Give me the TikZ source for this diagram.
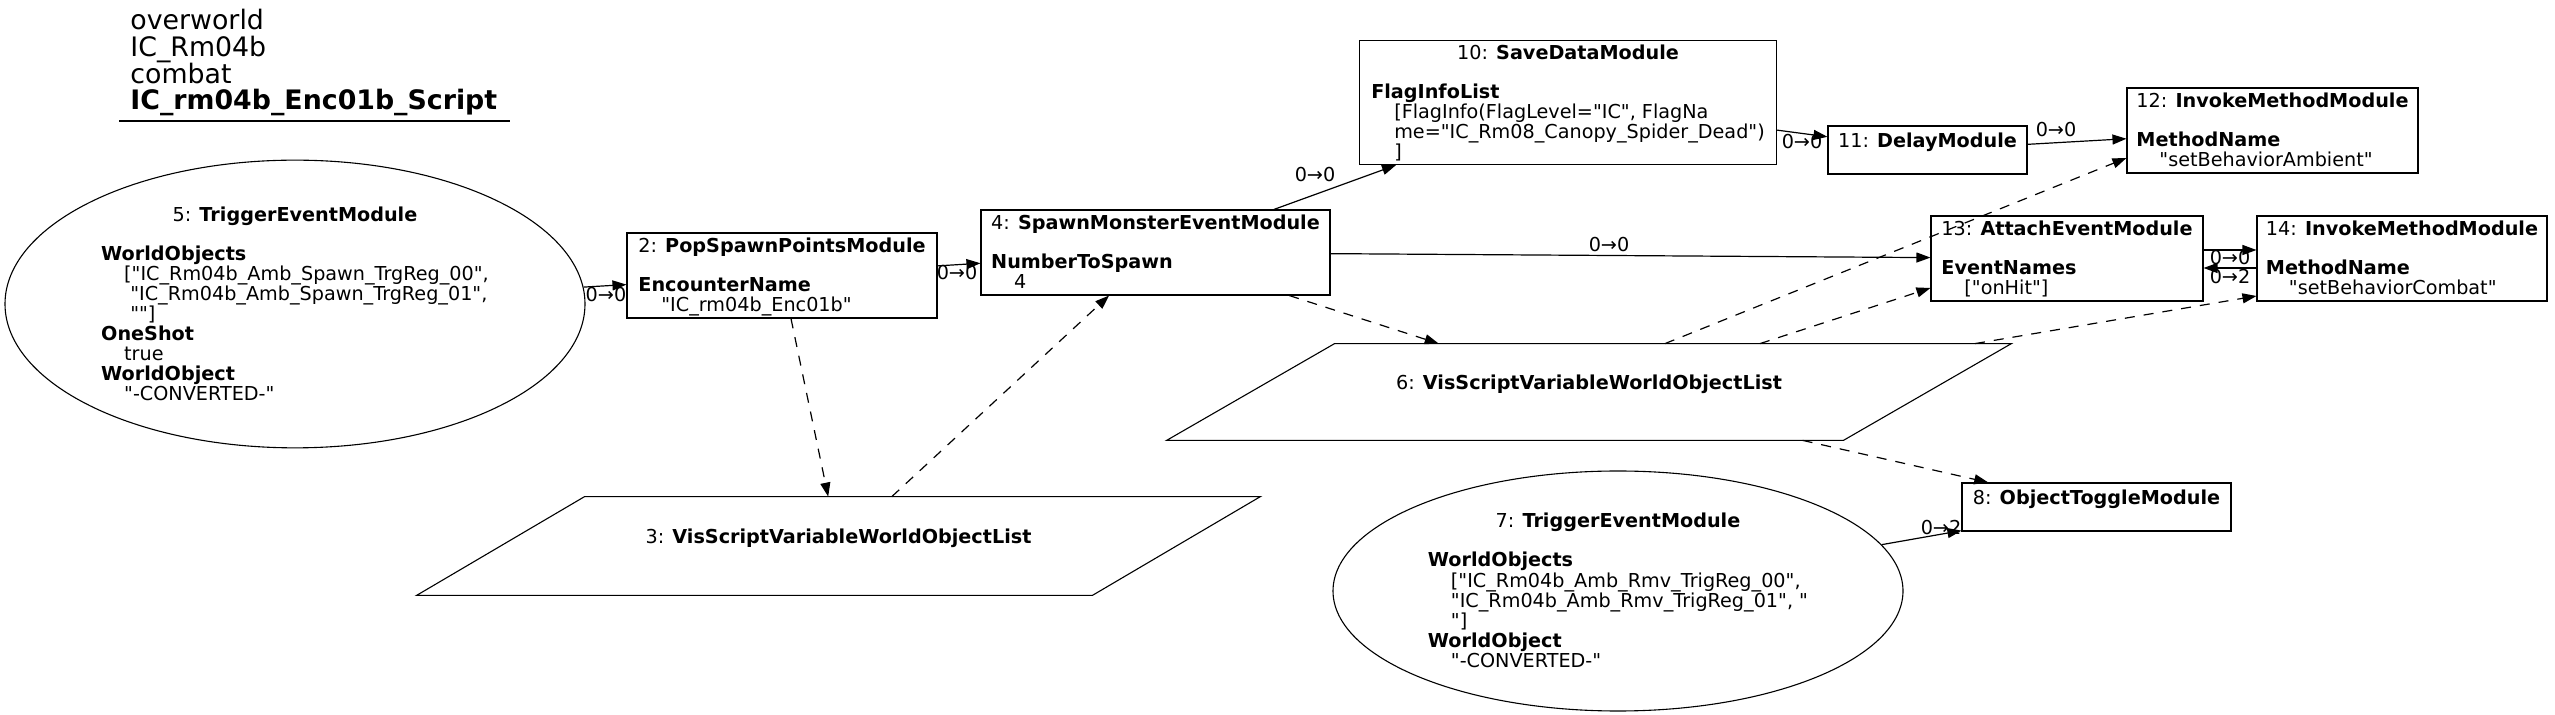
\documentclass[tikz,border=0pt]{standalone}
\usepackage{fontspec}
\setmainfont{DejaVu Sans}[Ligatures=TeXOff]
\usetikzlibrary{shapes.geometric,arrows.meta}
\newcommand\nfont{\fontsize{9.6}{9.35}\selectfont}
\newcommand\tfont{\fontsize{13.4}{13.35}\selectfont}
\newcommand\indt{\hspace*{11.5pt}}
\newcommand\ttl[1]{\multicolumn{1}{@{}c@{}}{\rule{0pt}{9.5pt}#1}}
\tikzset{
  box/.style={draw, line width=0.55pt, rectangle, inner sep=0pt, font=\nfont},
  ell/.style={draw, ellipse, line width=0.55pt, inner sep=0pt, font=\nfont},
  para/.style={rectangle, inner sep=0pt, font=\nfont},
  paraline/.style={line width=0.55pt, line join=miter},
  edge/.style={line width=0.6pt, -{Triangle[length=7pt,width=5pt]}},
  dedge/.style={edge, dash pattern=on 5pt off 4.5pt},
  lbl/.style={font=\nfont, inner sep=0pt},
}
\begin{document}
\begin{tikzpicture}[x=0.5pt,y=-0.5pt]
\useasboundingbox (0,0) rectangle (2555,715);

% title
\node[font=\tfont, align=left, anchor=north west, inner sep=0pt] (title) at (130,9)
  {overworld\\IC\_Rm04b\\combat\\\textbf{IC\_rm04b\_Enc01b\_Script}};
\draw[line width=0.6pt] (119,121) -- (510,121);

% nodes
\node[ell, minimum width=290pt, minimum height=139pt] (n5) at (295,304)
 {\begin{tabular}{@{}l@{}}\ttl{5: \textbf{TriggerEventModule}}\\ {}\\
  \textbf{WorldObjects}\\
  \indt["IC\_Rm04b\_Amb\_Spawn\_TrgReg\_00",\\
  \indt\ "IC\_Rm04b\_Amb\_Spawn\_TrgReg\_01",\\
  \indt\ ""]\\
  \textbf{OneShot}\\
  \indt true\\
  \textbf{WorldObject}\\
  \indt"-CONVERTED-"\end{tabular}};

\node[box, minimum width=155pt, minimum height=42.5pt] (n2) at (782,275.5)
 {\begin{tabular}{@{}l@{}}\ttl{2: \textbf{PopSpawnPointsModule}}\\ {}\\
  \textbf{EncounterName}\\ \indt"IC\_rm04b\_Enc01b"\end{tabular}};

\node[box, minimum width=174.5pt, minimum height=42.5pt] (n4) at (1155.5,252.5)
 {\begin{tabular}{@{}l@{}}\ttl{4: \textbf{SpawnMonsterEventModule}}\\ {}\\
  \textbf{NumberToSpawn}\\ \indt 4\end{tabular}};

\node[box, minimum width=208.5pt, minimum height=61.5pt] (n10) at (1568,102.5)
 {\begin{tabular}{@{}l@{}}\ttl{10: \textbf{SaveDataModule}}\\ {}\\
  \textbf{FlagInfoList}\\
  \indt[FlagInfo(FlagLevel="IC", FlagNa\\
  \indt me="IC\_Rm08\_Canopy\_Spider\_Dead")\\
  \indt]\end{tabular}};

\node[box, minimum width=99.5pt, minimum height=24pt] (n11) at (1927.5,150)
 {\begin{tabular}{@{}l@{}}\ttl{11: \textbf{DelayModule}}\\ {}\end{tabular}};

\node[box, minimum width=145.5pt, minimum height=42.5pt] (n12) at (2272.5,130.5)
 {\begin{tabular}{@{}l@{}}\ttl{12: \textbf{InvokeMethodModule}}\\ {}\\
  \textbf{MethodName}\\ \indt"setBehaviorAmbient"\end{tabular}};

\node[box, minimum width=136pt, minimum height=42.5pt] (n13) at (2067,258.5)
 {\begin{tabular}{@{}l@{}}\ttl{13: \textbf{AttachEventModule}}\\ {}\\
  \textbf{EventNames}\\ \indt["onHit"]\end{tabular}};

\node[box, minimum width=145pt, minimum height=42.5pt] (n14) at (2402,258.5)
 {\begin{tabular}{@{}l@{}}\ttl{14: \textbf{InvokeMethodModule}}\\ {}\\
  \textbf{MethodName}\\ \indt"setBehaviorCombat"\end{tabular}};

\node[para, minimum width=422pt, minimum height=48pt] (n6) at (1589,392)
 {\begin{tabular}{@{}c@{}}\rule{0pt}{9.5pt}6: \textbf{VisScriptVariableWorldObjectList}\\ {}\end{tabular}};
\draw[paraline] ([xshift=84pt]n6.north west) -- (n6.north east)
  -- ([xshift=-84pt]n6.south east) -- (n6.south west) -- cycle;

\node[para, minimum width=421.5pt, minimum height=49pt] (n3) at (838.5,546)
 {\begin{tabular}{@{}c@{}}\rule{0pt}{9.5pt}3: \textbf{VisScriptVariableWorldObjectList}\\ {}\end{tabular}};
\draw[paraline] ([xshift=84pt]n3.north west) -- (n3.north east)
  -- ([xshift=-84pt]n3.south east) -- (n3.south west) -- cycle;

\node[ell, minimum width=285pt, minimum height=120pt] (n7) at (1618,591)
 {\begin{tabular}{@{}l@{}}\ttl{7: \textbf{TriggerEventModule}}\\ {}\\
  \textbf{WorldObjects}\\
  \indt["IC\_Rm04b\_Amb\_Rmv\_TrigReg\_00",\\
  \indt"IC\_Rm04b\_Amb\_Rmv\_TrigReg\_01", "\\
  \indt"]\\
  \textbf{WorldObject}\\
  \indt"-CONVERTED-"\end{tabular}};

\node[box, minimum width=134.5pt, minimum height=24pt] (n8) at (2096.5,507)
 {\begin{tabular}{@{}l@{}}\ttl{8: \textbf{ObjectToggleModule}}\\ {}\end{tabular}};

% solid edges
\draw[edge] (n5) -- (n2);
\draw[edge] (n2) -- (n4);
\draw[edge] (n4) -- (n10);
\draw[edge] (n10) -- (n11);
\draw[edge] (n11) -- (n12);
\draw[edge] (n4) -- (n13);
\draw[edge] ([yshift=4.25pt]n13.east) -- ([yshift=4.25pt]n14.west);
\draw[edge] ([yshift=-4.75pt]n14.west) -- ([yshift=-4.75pt]n13.east);
\draw[edge] (n7) -- (n8);

% dashed edges
\draw[dedge] (n2) -- (n3);
\draw[dedge] (n3) -- (n4);
\draw[dedge] (n4) -- (n6);
\draw[dedge] ([xshift=38pt]n6.north) -- ([yshift=-13.75pt]n12.west);
\draw[dedge] ([xshift=85.5pt]n6.north) -- ([yshift=-14.75pt]n13.west);
\draw[dedge] ([xshift=193pt]n6.north) -- ([yshift=-18.75pt]n14.west);
\draw[dedge] (n6) -- (n8);

% edge labels
\node[lbl] (l52) at (606,295) {0→0};
\node[lbl] (l24) at (957,273) {0→0};
\node[lbl] (l410) at (1315,175) {0→0};
\node[lbl] (l1011) at (1802,142) {0→0};
\node[lbl] (l1112) at (2056,130) {0→0};
\node[lbl] (l413) at (1609,245) {0→0};
\node[lbl] (l1314) at (2230,258) {0→0};
\node[lbl] (l1413) at (2230,277) {0→2};
\node[lbl] (l78) at (1941,528) {0→2};
\end{tikzpicture}
\end{document}
